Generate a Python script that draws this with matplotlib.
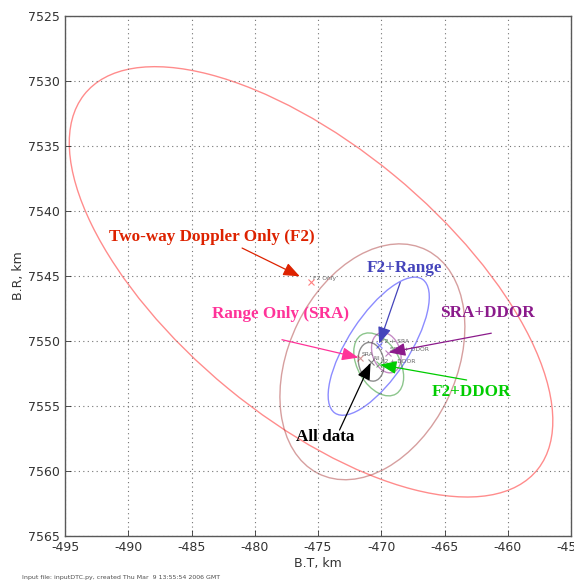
import numpy as np
import matplotlib
matplotlib.use("Agg")
import matplotlib.pyplot as plt
from matplotlib.patches import Ellipse

plt.rcParams["axes.unicode_minus"] = False

# orbit determination solutions in the B-plane (km)
cases = ["F2 Only", "SRA", "F2 + SRA", "F2 + DDOR", "SRA + DDOR", "All"]
bt = [-475.55, -471.7, -470.2, -470.2, -469.5, -470.8]
br = [7545.45, 7551.3, 7550.3, 7551.8, 7550.9, 7551.6]

# 1-sigma dispersion ellipses: centre, semi-axes (km) and orientation (deg)
ell_bt = [-475.55, -470.7, -470.2, -470.2, -469.6, -470.8]
ell_br = [7545.45, 7551.6, 7550.4, 7551.8, 7550.9, 7551.6]
semi_major = [23.0, 9.6, 6.2, 2.65, 1.6, 1.5]
semi_minor = [10.5, 6.6, 2.4, 1.65, 1.1, 1.0]
orient = [38.7, -63.2, -56.0, 58.7, 70.0, 80.0]
case_colors = ["red", "brown", "blue", "green", "purple", "black"]

# callout labels
callouts = ["Two-way Doppler Only (F2)", "Range Only (SRA)", "F2+Range",
            "F2+DDOR", "SRA+DDOR", "All data"]
callout_colors = ["#dd2200", "#ff3399", "#4444bb", "#00cc00", "#8b1a8b", "black"]
callout_x = [-483.4, -478.0, -468.2, -462.9, -461.6, -474.4]
callout_y = [7542.0, 7547.9, 7544.4, 7553.9, 7547.85, 7557.4]
arrow_x = [-481.0, -477.85, -468.5, -463.25, -461.3, -473.3]
arrow_y = [7542.85, 7549.9, 7545.5, 7553.0, 7549.4, 7556.85]
arrow_case = [0, 1, 2, 3, 4, 5]
arrow_shrink = [9, 1, 1, 1, 1, 1]

xticks = np.arange(-495, -454, 5)
yticks = np.arange(7525, 7566, 5)

fig = plt.figure(figsize=(5.74, 5.81), dpi=100)
ax = fig.add_axes([65 / 574, 45 / 581, 506 / 574, 520 / 581])

for i in range(len(cases)):
    e = Ellipse((ell_bt[i], ell_br[i]), 2 * semi_major[i], 2 * semi_minor[i],
                angle=orient[i], fill=False, edgecolor=case_colors[i],
                alpha=0.45, lw=1.0)
    ax.add_patch(e)
    ax.plot(bt[i], br[i], marker="x", color=case_colors[i], alpha=0.5,
            ms=5, mew=0.8, ls="none")
    ax.annotate(cases[i], (bt[i], br[i]), xytext=(1.5, 0.5),
                textcoords="offset points", fontsize=4.3, color="0.4",
                ha="left", va="bottom")

for k in range(len(callouts)):
    c = arrow_case[k]
    ax.annotate("", xy=(bt[c], br[c]), xytext=(arrow_x[k], arrow_y[k]),
                arrowprops=dict(arrowstyle="-|>,head_length=1.0,head_width=0.4",
                                color=callout_colors[k], lw=0.9,
                                shrinkA=0, shrinkB=arrow_shrink[k],
                                mutation_scale=10))
    ax.text(callout_x[k], callout_y[k], callouts[k], color=callout_colors[k],
            fontsize=12.3, fontweight="bold", family="Liberation Serif",
            ha="center", va="center")

ax.set_xlim(-495, -455)
ax.set_ylim(7565, 7525)
ax.set_xticks(xticks)
ax.set_yticks(yticks)
ax.grid(True, ls=(0, (1, 3)), color="0.45", lw=0.8)
ax.tick_params(direction="in", length=4, width=0.6, labelsize=9, colors="0.2")
for s in ax.spines.values():
    s.set_color("0.35")
    s.set_linewidth(1.0)
ax.set_xlabel("B.T, km", fontsize=9, color="0.2", labelpad=2)
ax.set_ylabel("B.R, km", fontsize=9, color="0.2", labelpad=2)

fig.text(22 / 574, 1 - 577 / 581, "Input file: inputDTC.py, created Thu Mar  9 13:55:54 2006 GMT",
         fontsize=4.5, color="0.3", va="center", ha="left")

fig.savefig("out.png", dpi=100)
